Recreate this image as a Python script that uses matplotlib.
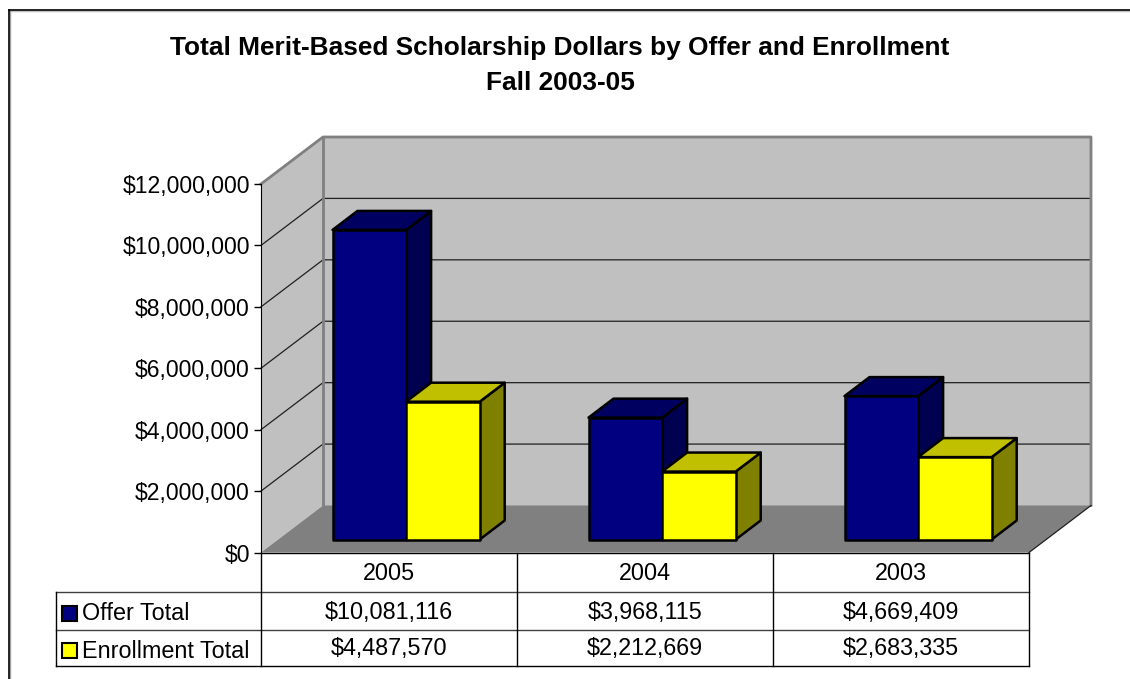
import matplotlib
matplotlib.use('Agg')
import matplotlib.pyplot as plt
from matplotlib.lines import Line2D
from matplotlib.patches import Polygon, Rectangle
from matplotlib.transforms import Affine2D

plt.rcParams['font.family'] = ['Liberation Sans', 'DejaVu Sans']

years = ['2005', '2004', '2003']
offer_total = [10081116, 3968115, 4669409]
enrollment_total = [4487570, 2212669, 2683335]
y_ticks = [0, 2000000, 4000000, 6000000, 8000000, 10000000, 12000000]

W, H = 1130, 679
# plot box in pixels (top-left origin)
x0, x1 = 261, 1029
y_bot, y_top = 552.5, 184

fig = plt.figure(figsize=(W / 100, H / 100), dpi=100)
ax = fig.add_axes([x0 / W, 1 - y_bot / H, (x1 - x0) / W, (y_bot - y_top) / H])
ax.set_xlim(0, 3)
ax.set_ylim(0, 12000000)
ax.patch.set_visible(False)

# pixels on screen, y going down
px = Affine2D().scale(1, -1).translate(0, H)

cat_px = (x1 - x0) / 3
val_px = (y_bot - y_top) / 12000000


def shift(dx, dy):
    return dx / cat_px, dy / val_px


def poly(pts, fc, ec, lw=1.0, z=2):
    ax.add_patch(Polygon(pts, closed=True, fc=fc, ec=ec, lw=lw, clip_on=False, zorder=z, joinstyle='round'))


# walls and floor
wx, wy = shift(62, 47)
poly([(0, 0), (0, 12000000), (wx, 12000000 + wy), (wx, wy)], '#c0c0c0', 'none', z=1)
poly([(wx, wy), (wx, 12000000 + wy), (3 + wx, 12000000 + wy), (3 + wx, wy)], '#c0c0c0', 'none', z=1)
poly([(0, 0), (3, 0), (3 + wx, wy), (wx, wy)], '#808080', 'none', z=1)

for t in y_ticks[1:-1]:
    ax.plot([0, wx, 3 + wx], [t, t + wy, t + wy], color='#202020', lw=0.9, clip_on=False, zorder=1.5)
ax.plot([0, wx, 3 + wx, 3 + wx], [12000000, 12000000 + wy, 12000000 + wy, wy],
        color='#808080', lw=2, clip_on=False, zorder=1.5)
ax.plot([wx, wx], [wy, 12000000 + wy], color='#808080', lw=2, clip_on=False, zorder=1.5)
ax.plot([3, 3 + wx], [0, wy], color='#202020', lw=0.9, clip_on=False, zorder=1.5)

bar_w = 73.6


def bar3d(left, value, face, top, side):
    bx, by = shift(17.5, 13)
    dx, dy = shift(25, 19)
    bw = bar_w / cat_px
    xa = left + bx
    xb = xa + bw
    poly([(xb, by), (xb, by + value), (xb + dx, by + value + dy), (xb + dx, by + dy)], side, 'black', 1.8, 3)
    poly([(xa, by + value), (xb, by + value), (xb + dx, by + value + dy), (xa + dx, by + value + dy)],
         top, 'black', 1.8, 3)
    poly([(xa, by), (xb, by), (xb, by + value), (xa, by + value)], face, 'black', 1.8, 3)


for i in range(len(years)):
    left = i + (cat_px - 148) / 2 / cat_px
    bar3d(left, offer_total[i], '#000080', '#000060', '#000050')
    bar3d(left + bar_w / cat_px, enrollment_total[i], '#ffff00', '#c0c000', '#808000')

ax.set_yticks(y_ticks)
ax.set_yticklabels(['${:,}'.format(t) for t in y_ticks], fontsize=16.6)
ax.set_xticks([])
ax.tick_params(axis='y', length=5, width=1, pad=3)
for s in ['top', 'right', 'bottom']:
    ax.spines[s].set_visible(False)
ax.spines['left'].set_zorder(2.5)


def line(xs, ys, c='black', lw=1.0):
    fig.add_artist(Line2D(xs, ys, color=c, lw=lw, transform=px))


# data table
rows = [552.5, 592, 629.5, 665.5]
cols = [x0 + k * cat_px for k in range(4)]
line([x0, x1], [rows[0], rows[0]])
line([56, x1], [rows[1], rows[1]], '#404040')
line([56, x1], [rows[2], rows[2]], '#404040')
line([56, x1], [rows[3], rows[3]])
line([56, 56], [rows[1], rows[3]])
for c in cols:
    line([c, c], [rows[0], rows[3]])

for i, yr in enumerate(years):
    xc = x0 + (i + 0.5) * cat_px
    fig.text(xc, 573.5, yr, ha='center', va='center', fontsize=16.8, transform=px)
    fig.text(xc, 612.5, '${:,}'.format(offer_total[i]), ha='center', va='center', fontsize=16.8, transform=px)
    fig.text(xc, 649, '${:,}'.format(enrollment_total[i]), ha='center', va='center', fontsize=16.8, transform=px)

fig.add_artist(Rectangle((61.5, 606), 15, 15, fc='#000080', ec='black', lw=1.5, transform=px))
fig.add_artist(Rectangle((61.5, 643), 15, 15, fc='#ffff00', ec='black', lw=1.5, transform=px))
fig.text(82, 614, 'Offer Total', ha='left', va='center', fontsize=16.8, transform=px)
fig.text(82, 651, 'Enrollment Total', ha='left', va='center', fontsize=16.8, transform=px)

fig.text(560, 65.5, 'Total Merit-Based Scholarship Dollars by Offer and Enrollment\nFall 2003-05',
         ha='center', va='center', fontsize=18.9, fontweight='bold', linespacing=1.56, transform=px)

# chart frame, only top and left show
line([8.5, 1130], [10.5, 10.5], '#c0c0c0', 1.0)
line([9.5, 9.5], [10, 679], '#a0a0a0', 1.0)
line([8.5, 1130], [9.5, 9.5], 'black', 1.2)
line([8.5, 8.5], [9.5, 679], 'black', 1.2)

fig.savefig('out.png', dpi=100)
